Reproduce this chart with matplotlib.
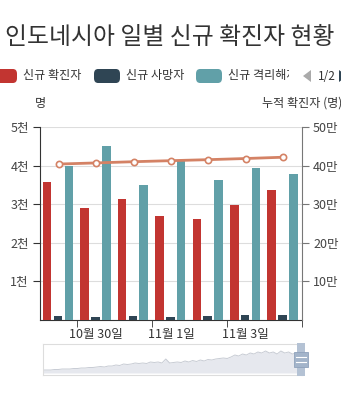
import matplotlib
matplotlib.use('Agg')
import matplotlib.pyplot as plt
from matplotlib.patches import FancyBboxPatch, Rectangle, Polygon
import numpy as np

plt.rcParams['font.family'] = ['Noto Sans CJK KR', 'DejaVu Sans']

# daily figures, 10/29 .. 11/4
dates = ['10월 29일', '10월 30일', '10월 31일', '11월 1일', '11월 2일', '11월 3일', '11월 4일']
new_cases = [3565, 2897, 3143, 2696, 2618, 2973, 3356]
new_deaths = [109, 87, 91, 89, 112, 118, 126]
new_recovered = [3983, 4511, 3500, 4125, 3625, 3930, 3780]
cumulative = [404048, 406945, 410088, 412784, 415402, 418375, 421731]

# overview strip (whole period, relative height)
overview = [3, 3, 3, 3.5, 3.5, 4, 4, 4, 4.5, 4.5, 5, 5, 5.5, 5.5, 6, 6.5, 6, 7, 7,
            8, 7.5, 9, 8.5, 9, 10, 9.5, 10, 9.5, 11, 10.5, 11, 10, 14, 10, 10.5, 11,
            10.5, 12, 11, 12.5, 11.5, 13, 12, 13.5, 13, 14, 14.5, 15, 14.5, 16, 18,
            17, 19, 18, 20, 19, 21, 20, 22, 20, 21, 19, 22, 20, 21, 19, 20, 19.5]

RED = '#c23531'
NAVY = '#2f4554'
TEAL = '#61a0a8'
ORANGE = '#d48265'
TXT = '#333333'

W, H = 341, 400
fig = plt.figure(figsize=(W / 100, H / 100), dpi=100)


def fx(px):
    return px / W


def fy(py):
    return 1 - py / H


fig.text(fx(170), fy(38), '인도네시아 일별 신규 확진자 현황', ha='center', va='center',
         fontsize=17.2, color=TXT)

# legend row
legend_items = [(-9, RED, '신규 확진자'), (94, NAVY, '신규 사망자'), (196, TEAL, '신규 격리해제')]
for x0, col, label in legend_items:
    fig.patches.append(FancyBboxPatch((fx(x0), fy(83)), fx(26), 14 / H,
                                      boxstyle='round,pad=0,rounding_size=0.012',
                                      transform=fig.transFigure, facecolor=col,
                                      edgecolor='none'))
    fig.text(fx(x0 + 32), fy(76), label, ha='left', va='center', fontsize=8.7, color=TXT)
fig.patches.append(Rectangle((fx(289), fy(90)), fx(12), 28 / H, transform=fig.transFigure,
                             facecolor='white', edgecolor='none', zorder=5))
fig.patches.append(Polygon([[fx(303), fy(76)], [fx(311), fy(70)], [fx(311), fy(82)]],
                           closed=True, transform=fig.transFigure, facecolor='#aaaaaa',
                           edgecolor='none', zorder=6))
fig.text(fx(318), fy(76), '1/2', ha='left', va='center', fontsize=8.5, color=TXT, zorder=6)
fig.patches.append(Polygon([[fx(339), fy(70)], [fx(347), fy(76)], [fx(339), fy(82)]],
                           closed=True, transform=fig.transFigure, facecolor=NAVY,
                           edgecolor='none', zorder=6))

fig.text(fx(40), fy(103), '명', ha='center', va='center', fontsize=8.7, color=TXT)
fig.text(fx(262), fy(103), '누적 확진자 (명)', ha='left', va='center', fontsize=8.7, color=TXT)

# main chart
ax = fig.add_axes([fx(40), fy(320), fx(262), (320 - 127) / H])
x = np.arange(len(dates))
bw = 0.23
ax.bar(x - 0.31, new_cases, width=bw, color=RED, zorder=3)
ax.bar(x - 0.02, new_deaths, width=bw, color=NAVY, zorder=3)
ax.bar(x + 0.27, new_recovered, width=bw, color=TEAL, zorder=3)
ax.set_xlim(-0.5, len(dates) - 0.5)
ax.set_ylim(0, 5000)
ax.set_yticks([1000, 2000, 3000, 4000, 5000])
ax.set_yticklabels(['1천', '2천', '3천', '4천', '5천'])
ax.yaxis.grid(True, color='#dddddd', linewidth=0.8, zorder=0)
ax.set_xticks([1, 3, 5])
ax.set_xticklabels([dates[1], dates[3], dates[5]])
ax.set_xticks([0.5, 2.5, 4.5, 6.5], minor=True)
ax.tick_params(axis='x', which='major', length=0, pad=6, labelsize=9, labelcolor=TXT)
ax.tick_params(axis='x', which='minor', length=5, color=TXT)
ax.tick_params(axis='y', length=5, color=TXT, labelsize=9, labelcolor='#444444', pad=3)
for side in ('top', 'right'):
    ax.spines[side].set_visible(False)
ax.spines['left'].set_color(TXT)
ax.spines['bottom'].set_color(TXT)

ax2 = ax.twinx()
ax2.plot(x, cumulative, color=ORANGE, linewidth=2, marker='o', markersize=4.5,
         markerfacecolor='white', markeredgecolor=ORANGE, markeredgewidth=1.2, zorder=5)
ax2.set_ylim(0, 500000)
ax2.set_yticks([100000, 200000, 300000, 400000, 500000])
ax2.set_yticklabels(['10만', '20만', '30만', '40만', '50만'])
ax2.tick_params(axis='y', length=5, color='#777777', labelsize=9, labelcolor='#444444', pad=3)
for side in ('top', 'left', 'bottom'):
    ax2.spines[side].set_visible(False)
ax2.spines['right'].set_color('#777777')

# overview slider
axs = fig.add_axes([fx(43), fy(375), fx(259), 31 / H])
xi = np.arange(len(overview))
axs.fill_between(xi, overview, color='#e6e8ee', linewidth=0)
axs.plot(xi, overview, color='#c8ccd4', linewidth=0.7)
axs.set_xlim(0, len(overview) - 0.5)
axs.set_ylim(-2, 29)
axs.set_xticks([])
axs.set_yticks([])
for sp in axs.spines.values():
    sp.set_color('#dddddd')
    sp.set_linewidth(0.8)

fig.patches.append(Rectangle((fx(297), fy(376)), fx(8), 33 / H, transform=fig.transFigure,
                             facecolor='#b4c2d4', edgecolor='none', zorder=5))
fig.patches.append(Rectangle((fx(294), fy(367)), fx(14), 15 / H, transform=fig.transFigure,
                             facecolor='#a3b4ca', edgecolor='#8fa2bb', linewidth=0.6, zorder=6))
for yy in (357, 362):
    fig.lines.append(plt.Line2D([fx(296), fx(306)], [fy(yy), fy(yy)], transform=fig.transFigure,
                                color='white', linewidth=0.8, zorder=7))

fig.savefig('out.png', dpi=100)
